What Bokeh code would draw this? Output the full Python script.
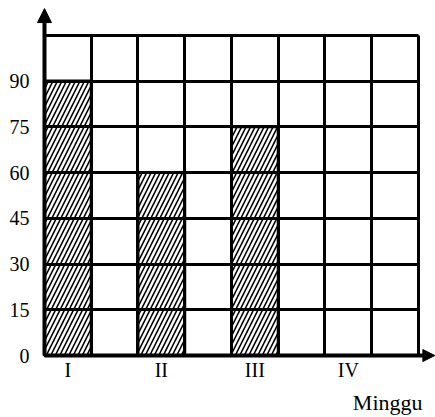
from bokeh.plotting import figure
from bokeh.models import Range1d, FixedTicker, Arrow, NormalHead, ColumnDataSource
from bokeh.core.properties import value
from bokeh.embed import file_html
from bokeh.resources import INLINE

# ---- data ----
weeks = ["I", "II", "III", "IV"]
week_cols = [0, 2, 4, 6]          # grid column that each week sits in
values = [90, 60, 75, 0]           # bar heights (week IV has no bar)
y_ticks = [0, 15, 30, 45, 60, 75, 90]
grid_y = [0, 15, 30, 45, 60, 75, 90, 105]
grid_x = [0, 1, 2, 3, 4, 5, 6, 7, 8]
x_title = "Minggu"

centers = [c + 0.5 for c in week_cols]
src = ColumnDataSource(dict(x=centers, top=values, week=weeks))

FONT = "Liberation Serif"

p = figure(width=435, height=417,
           x_range=Range1d(-0.171, 8.364), y_range=Range1d(-20.32, 116.4),
           output_backend="svg", toolbar_location=None,
           min_border_left=36, min_border_right=0,
           min_border_top=0, min_border_bottom=0)
p.outline_line_color = None
p.background_fill_color = "white"
p.border_fill_color = "white"

# bars
p.vbar(x="x", top="top", bottom=0, width=1, source=src,
       fill_color="white", line_color="black", line_width=3,
       hatch_pattern="/", hatch_color="black", hatch_scale=9, hatch_weight=1.6)

# grid (limited to the drawn squares)
p.xgrid.ticker = FixedTicker(ticks=grid_x)
p.xgrid.cross_bounds = (grid_y[0], grid_y[-1])
p.ygrid.ticker = FixedTicker(ticks=grid_y)
p.ygrid.cross_bounds = (grid_x[0], grid_x[-1])
for g in (p.xgrid, p.ygrid):
    g.grid_line_color = "black"
    g.grid_line_width = 3
    g.grid_line_alpha = 1
    g.level = "guide"

# y axis: labels only (axis line drawn by the arrow)
p.yaxis.ticker = FixedTicker(ticks=y_ticks)
p.yaxis.axis_line_color = None
p.yaxis.major_tick_line_color = None
p.yaxis.minor_tick_line_color = None
p.yaxis.major_label_text_font = FONT
p.yaxis.major_label_text_font_size = "20px"
p.yaxis.major_label_text_color = "black"
p.yaxis.major_label_standoff = 1
p.xaxis.visible = False

# week labels under the axis and the axis title
p.text(x="x", y=-4.9, text="week", source=src, text_align="center",
       text_baseline="alphabetic", text_font=value(FONT),
       text_font_size="20px", text_color="black")
p.text(x=[8.086], y=[-15.4], text=[x_title], text_align="right",
       text_baseline="alphabetic", text_font=value(FONT),
       text_font_size="22px", text_color="black")

# axes with arrow heads
p.add_layout(Arrow(end=NormalHead(size=14, fill_color="black", line_color="black", line_width=1),
                   x_start=0, y_start=0, x_end=0, y_end=113.75,
                   line_color="black", line_width=4))
p.add_layout(Arrow(end=NormalHead(size=12, fill_color="black", line_color="black", line_width=1),
                   x_start=0, y_start=0, x_end=8.35, y_end=0,
                   line_color="black", line_width=4))

open("out.html", "w").write(file_html(p, INLINE))
